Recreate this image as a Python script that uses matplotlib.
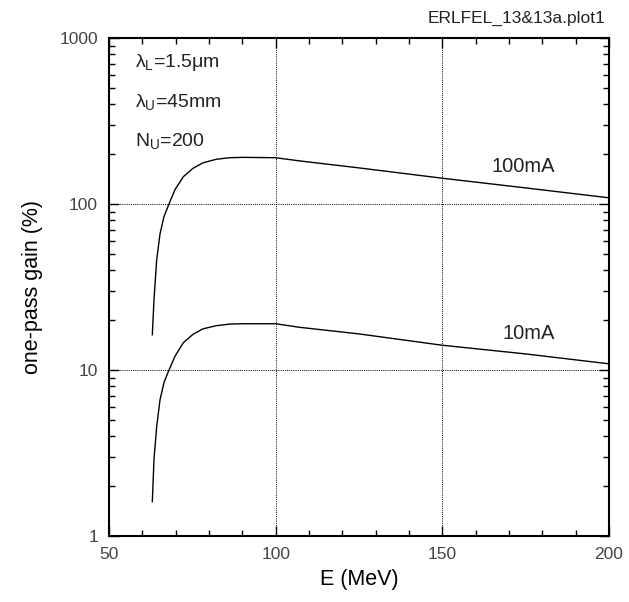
"""One-pass FEL gain vs beam energy for two beam currents (log scale)."""

import matplotlib
matplotlib.use("Agg")
import matplotlib.pyplot as plt
from matplotlib.ticker import MultipleLocator, LogLocator, FixedLocator, NullFormatter

# beam energy (MeV)
energy = [63.0, 63.5, 64.3, 65.3, 66.5, 68.0, 69.8, 72.3, 75.2, 78.2, 82.2, 86.2, 90.0,
          100.0, 107.0, 125.0, 150.0, 175.0, 200.0]
# one-pass gain (%)
gain_100mA = [16.3, 26.5, 46.0, 66.0, 84.0, 100.0, 122.0, 146.0, 164.0, 177.0, 186.0, 190.0, 191.0,
              190.0, 182.0, 165.0, 143.0, 125.0, 109.0]
gain_10mA = [1.61, 2.9, 4.55, 6.6, 8.4, 10.0, 12.1, 14.6, 16.4, 17.7, 18.5, 18.9, 19.0,
             19.0, 18.1, 16.5, 14.1, 12.5, 10.9]

x_ticks = [50, 100, 150, 200]
y_ticks = [1, 10, 100, 1000]

FONT = "Liberation Sans"
TICK_COLOR = "#444444"
TEXT_COLOR = "#222222"


def main():
    plt.rcParams["mathtext.fontset"] = "custom"
    plt.rcParams["mathtext.rm"] = FONT
    plt.rcParams["mathtext.it"] = FONT

    fig = plt.figure(figsize=(6.29, 6.02), dpi=100)
    ax = fig.add_axes([0.1733, 0.1096, 0.7947, 0.8273])

    ax.plot(energy, gain_100mA, color="black", lw=1.0)
    ax.plot(energy, gain_10mA, color="black", lw=1.0)

    ax.set_yscale("log")
    ax.set_xlim(50, 200)
    ax.set_ylim(1, 1000)

    ax.xaxis.set_major_locator(FixedLocator(x_ticks))
    ax.xaxis.set_minor_locator(MultipleLocator(10))
    ax.yaxis.set_major_locator(FixedLocator(y_ticks))
    ax.yaxis.set_minor_locator(LogLocator(base=10, subs=range(2, 10)))
    ax.yaxis.set_minor_formatter(NullFormatter())
    ax.set_xticklabels([str(v) for v in x_ticks])
    ax.set_yticklabels([str(v) for v in y_ticks])

    ax.tick_params(which="both", direction="in", top=True, right=True, width=1.0)
    ax.tick_params(which="major", length=7, labelsize=12.5, labelcolor=TICK_COLOR, pad=8)
    ax.tick_params(which="minor", length=4)
    for lbl in ax.get_xticklabels() + ax.get_yticklabels():
        lbl.set_fontfamily(FONT)

    for s in ax.spines.values():
        s.set_linewidth(1.5)

    # dotted grid only at interior major ticks
    for xv in x_ticks[1:-1]:
        ax.axvline(xv, color="black", lw=0.7, ls=(0, (1, 1.2)))
    for yv in y_ticks[1:-1]:
        ax.axhline(yv, color="black", lw=0.7, ls=(0, (1, 1.2)))

    ax.set_xlabel("E (MeV)", fontsize=15.5, family=FONT, labelpad=5)
    ax.set_ylabel("one-pass gain (%)", fontsize=15.5, family=FONT, labelpad=12)

    # parameter block, upper left
    params = ["λ$_{\\rm L}$=1.5μm", "λ$_{\\rm U}$=45mm", "N$_{\\rm U}$=200"]
    for i, txt in enumerate(params):
        ax.text(0.052, 0.950 - i * 0.0785, txt, transform=ax.transAxes,
                fontsize=14, family=FONT, color=TEXT_COLOR, va="center")

    ax.text(164.7, 169, "100mA", fontsize=14.5, family=FONT, color=TEXT_COLOR, va="center")
    ax.text(168.0, 16.7, "10mA", fontsize=14.5, family=FONT, color=TEXT_COLOR, va="center")

    fig.text(0.962, 0.969, "ERLFEL_13&13a.plot1", ha="right", va="center",
             fontsize=12.5, family=FONT, color=TEXT_COLOR)

    fig.savefig("out.png", dpi=100)


if __name__ == "__main__":
    main()
